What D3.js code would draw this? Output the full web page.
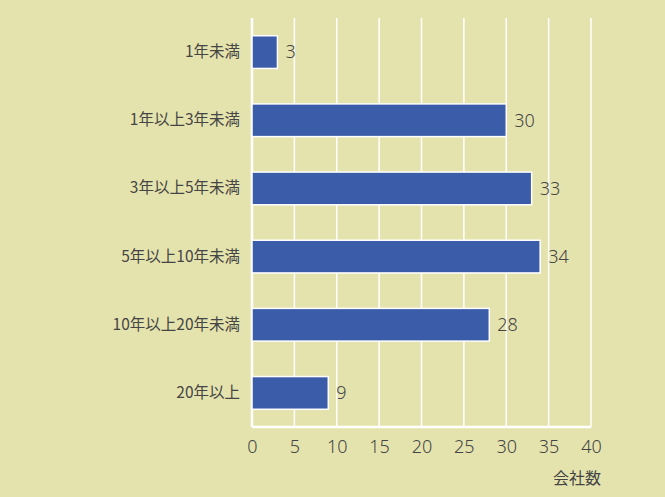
<!DOCTYPE html>
<meta charset="utf-8">
<script src="https://d3js.org/d3.v7.min.js"></script>
<style>
  body { margin: 0; background: #e4e3ad; }
  text { font-family: "Noto Sans CJK JP", "Noto Sans", sans-serif; fill: #454545; }
</style>
<div id="my_dataviz"></div>
<script>

// data
var categories = ["1年未満", "1年以上3年未満", "3年以上5年未満", "5年以上10年未満", "10年以上20年未満", "20年以上"];
var counts = [3, 30, 33, 34, 28, 9];
var xTicks = [0, 5, 10, 15, 20, 25, 30, 35, 40];
var xLabel = "会社数";

var W = 665, H = 497;
var margin = {top: 18, right: 74, bottom: 70, left: 252},
    width = W - margin.left - margin.right,
    height = H - margin.top - margin.bottom;

var svg = d3.select("#my_dataviz")
  .append("svg")
    .attr("width", W)
    .attr("height", H)
  .append("g")
    .attr("transform", "translate(" + margin.left + "," + margin.top + ")");

var x = d3.scaleLinear()
  .domain([0, 40])
  .range([0, width]);

var y = d3.scaleBand()
  .domain(categories)
  .range([0, height])
  .paddingInner(0.52)
  .paddingOuter(0.26);

// white grid lines
svg.append("g")
  .selectAll("line")
  .data(xTicks)
  .enter()
  .append("line")
    .attr("x1", function(d) { return x(d); })
    .attr("x2", function(d) { return x(d); })
    .attr("y1", 0)
    .attr("y2", height)
    .attr("stroke", "#ffffff")
    .attr("stroke-width", 1.5);

// bottom axis line
svg.append("line")
  .attr("x1", x(0))
  .attr("x2", x(40))
  .attr("y1", height)
  .attr("y2", height)
  .attr("stroke", "#ffffff")
  .attr("stroke-width", 2.5);

// left axis line
svg.append("line")
  .attr("x1", x(0))
  .attr("x2", x(0))
  .attr("y1", 0)
  .attr("y2", height)
  .attr("stroke", "#ffffff")
  .attr("stroke-width", 2.5);

// X axis tick labels
var xAxis = svg.append("g")
  .attr("transform", "translate(0," + height + ")")
  .call(d3.axisBottom(x).tickValues(xTicks).tickSize(0).tickPadding(13));
xAxis.select(".domain").remove();
xAxis.selectAll("text")
  .style("font-size", "18px")
  .style("font-family", "\"Noto Sans\", sans-serif")
  .style("font-weight", "300")
  .attr("fill", "#454545");

svg.append("text")
  .attr("text-anchor", "end")
  .attr("x", x(40) + 10)
  .attr("y", height + 57)
  .style("font-size", "16px")
  .text(xLabel);

// Y axis category labels
var yAxis = svg.append("g")
  .call(d3.axisLeft(y).tickSize(0).tickPadding(12));
yAxis.select(".domain").remove();
yAxis.selectAll("text")
  .style("font-size", "15.5px")
  .attr("fill", "#454545");

// bars
svg.append("g")
  .selectAll("rect")
  .data(counts)
  .enter()
  .append("rect")
    .attr("x", x(0))
    .attr("y", function(d, i) { return y(categories[i]); })
    .attr("width", function(d) { return x(d) - x(0); })
    .attr("height", y.bandwidth())
    .attr("fill", "#3b5ca8")
    .attr("stroke", "#ffffff")
    .attr("stroke-width", 1.5);

// value labels
svg.append("g")
  .selectAll("text")
  .data(counts)
  .enter()
  .append("text")
    .attr("x", function(d) { return x(d) + 8; })
    .attr("y", function(d, i) { return y(categories[i]) + y.bandwidth() / 2; })
    .attr("dy", "0.35em")
    .style("font-size", "18px")
    .style("font-family", "\"Noto Sans\", sans-serif")
    .style("font-weight", "300")
    .text(function(d) { return d; });

</script>
